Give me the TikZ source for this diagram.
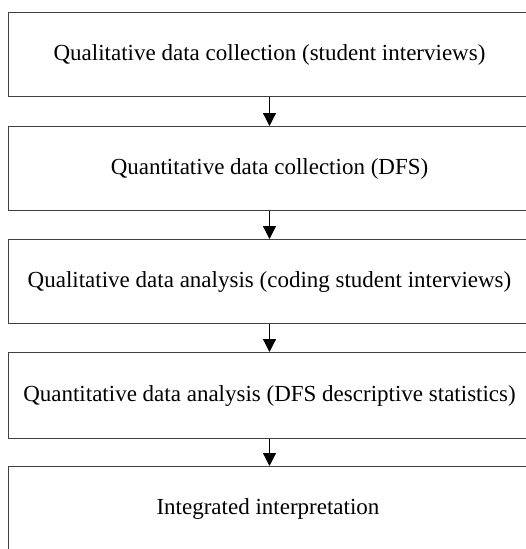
\documentclass[tikz,border=0pt]{standalone}
\usepackage{fontspec}
\setmainfont{Liberation Serif}
\usetikzlibrary{arrows.meta}
\begin{document}
\begin{tikzpicture}[x=1pt,y=-1pt,
  stagebox/.style={draw=black!75, line width=1pt, minimum width=522pt, minimum height=84pt,
    inner sep=0pt, anchor=north west, font=\fontsize{23}{27}\selectfont},
  flowarrow/.style={draw=black, line width=1.2pt, -{Triangle[length=13pt,width=13pt]}}]
  \useasboundingbox (0,0) rectangle (526,549);
  \node[stagebox] (b1) at (8,12) {Qualitative data collection (student interviews)};
  \node[stagebox] (b2) at (8,126) {Quantitative data collection (DFS)};
  \node[stagebox] (b3) at (8,239) {Qualitative data analysis (coding student interviews)};
  \node[stagebox, minimum height=86pt] (b4) at (8,352) {Quantitative data analysis (DFS descriptive statistics)};
  \node[stagebox, minimum height=90pt] (b5) at (8,466) {};
  \node[font=\fontsize{23}{27}\selectfont] (t5) at (268,509) {Integrated interpretation};
  \draw[flowarrow] (b1.south) -- (b2.north);
  \draw[flowarrow] (b2.south) -- (b3.north);
  \draw[flowarrow] (b3.south) -- (b4.north);
  \draw[flowarrow] (b4.south) -- (b5.north);
\end{tikzpicture}
\end{document}
